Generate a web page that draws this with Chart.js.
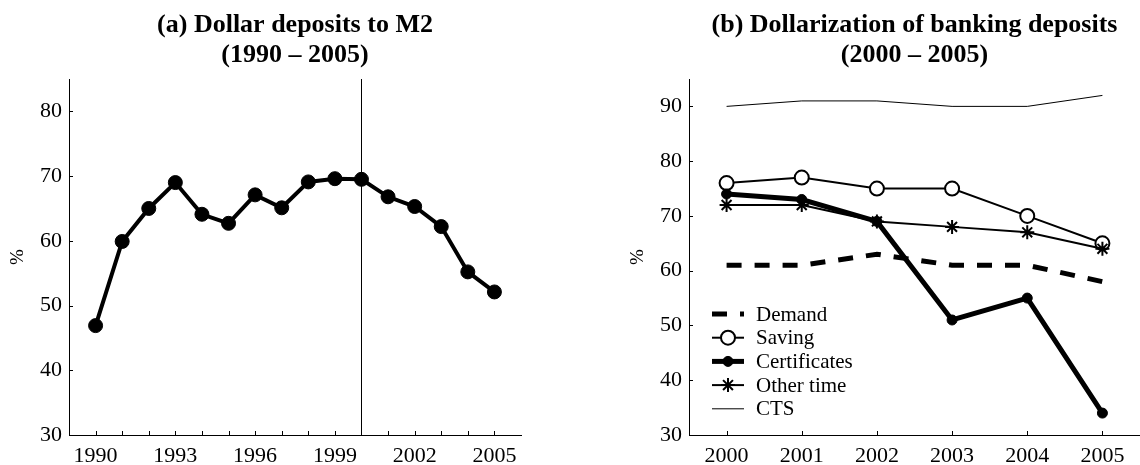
<!DOCTYPE html>
<html><head><meta charset="utf-8">
<script src="https://cdn.jsdelivr.net/npm/chart.js@4.4.1/dist/chart.umd.min.js"></script>
<style>
html,body{margin:0;padding:0;background:#fff;overflow:hidden;width:1140px;height:465px}
canvas{position:absolute;top:0}
#left{left:0}
#right{left:620px}
</style></head><body>
<canvas id="left" width="570" height="465"></canvas>
<canvas id="right" width="520" height="465"></canvas>
<script>
// ---------- data: panel (a) ----------
const leftYears = [1990,1991,1992,1993,1994,1995,1996,1997,1998,1999,2000,2001,2002,2003,2004,2005];
const dollarDepositsToM2 = [46.9,59.9,65.0,69.0,64.1,62.7,67.1,65.1,69.1,69.6,69.5,66.8,65.3,62.2,55.2,52.1];
const leftXTickLabels = [1990,1993,1996,1999,2002,2005];
const leftYTicks = [30,40,50,60,70,80];
const breakYear = 2000;
const leftTitle = ['(a) Dollar deposits to M2', '(1990 \u2013 2005)'];

// ---------- data: panel (b) ----------
const rightYears = [2000,2001,2002,2003,2004,2005];
const demand = [61,61,63,61,61,58];
const saving = [76,77,75,75,70,65];
const certificates = [74,73,69,51,55,34];
const otherTime = [72,72,69,68,67,64];
const cts = [90,91,91,90,90,92];
const rightYTicks = [30,40,50,60,70,80,90];
const rightTitle = ['(b) Dollarization of banking deposits', '(2000 \u2013 2005)'];
const seriesNames = ['Demand','Saving','Certificates','Other time','CTS'];
const yAxisTitle = '%';

const SERIF = '"Liberation Serif", "Times New Roman", Times, serif';
Chart.defaults.font.family = SERIF;
Chart.defaults.color = '#000';

const toPts = (xs, ys) => xs.map((x, i) => ({x: x, y: ys[i]}));

// ---------- plugins ----------
const panelTitle = {
  id: 'panelTitle',
  afterDraw(chart, args, o) {
    const {ctx, chartArea: a} = chart;
    ctx.save();
    ctx.fillStyle = '#000';
    ctx.font = 'bold ' + o.size + 'px ' + SERIF;
    ctx.textAlign = 'center';
    ctx.textBaseline = 'alphabetic';
    const cx = (a.left + a.right) / 2;
    o.lines.forEach((l, i) => ctx.fillText(l, cx, o.baseline + i * o.lineGap));
    ctx.restore();
  }
};

const innerTicks = {
  id: 'innerTicks',
  beforeDatasetsDraw(chart, args, o) {
    const {ctx, chartArea: a, scales: {x, y}} = chart;
    ctx.save();
    ctx.strokeStyle = '#000';
    ctx.lineWidth = 1;
    ctx.beginPath();
    x.ticks.forEach(t => {
      const px = Math.round(x.getPixelForValue(t.value)) + 0.5;
      ctx.moveTo(px, a.bottom); ctx.lineTo(px, a.bottom - o.length);
    });
    y.ticks.forEach(t => {
      const py = Math.round(y.getPixelForValue(t.value)) + 0.5;
      ctx.moveTo(a.left, py); ctx.lineTo(a.left + o.length, py);
    });
    ctx.stroke();
    ctx.restore();
  }
};

const breakLine = {
  id: 'breakLine',
  beforeDatasetsDraw(chart, args, o) {
    const {ctx, chartArea: a, scales: {x}} = chart;
    const px = Math.round(x.getPixelForValue(o.value)) + 0.5;
    ctx.save();
    ctx.strokeStyle = '#000';
    ctx.lineWidth = 1;
    ctx.beginPath();
    ctx.moveTo(px, a.top); ctx.lineTo(px, a.bottom);
    ctx.stroke();
    ctx.restore();
  }
};

function drawMarker(ctx, ds, x, y) {
  const r = ds.pointRadius || 0;
  if (!r) return;
  ctx.save();
  ctx.setLineDash([]);
  ctx.lineWidth = ds.pointBorderWidth || 1;
  ctx.strokeStyle = ds.pointBorderColor || '#000';
  ctx.fillStyle = ds.pointBackgroundColor || '#000';
  if (ds.pointStyle === 'star') {
    const d = r * Math.SQRT1_2;
    ctx.beginPath();
    ctx.moveTo(x - r, y); ctx.lineTo(x + r, y);
    ctx.moveTo(x, y - r); ctx.lineTo(x, y + r);
    ctx.moveTo(x - d, y - d); ctx.lineTo(x + d, y + d);
    ctx.moveTo(x - d, y + d); ctx.lineTo(x + d, y - d);
    ctx.stroke();
  } else {
    ctx.beginPath();
    ctx.arc(x, y, r, 0, Math.PI * 2);
    ctx.fill();
    ctx.stroke();
  }
  ctx.restore();
}

const insideLegend = {
  id: 'insideLegend',
  afterDraw(chart, args, o) {
    const {ctx, chartArea: a} = chart;
    ctx.save();
    ctx.font = o.size + 'px ' + SERIF;
    ctx.textBaseline = 'middle';
    ctx.textAlign = 'left';
    chart.data.datasets.forEach((ds, i) => {
      const y = a.bottom - o.firstRow + i * o.rowHeight;
      const x0 = a.left + o.left;
      ctx.save();
      ctx.strokeStyle = ds.borderColor;
      ctx.lineWidth = ds.borderWidth;
      ctx.setLineDash(ds.borderDash || []);
      ctx.beginPath();
      ctx.moveTo(x0, y); ctx.lineTo(x0 + o.sample, y);
      ctx.stroke();
      ctx.restore();
      drawMarker(ctx, ds, x0 + o.sample / 2, y);
      ctx.fillStyle = '#000';
      ctx.fillText(ds.label, x0 + o.sample + o.gap, y + 1);
    });
    ctx.restore();
  }
};

function xScale(min, max, years, labels) {
  return {
    type: 'linear', min: min, max: max,
    grid: {display: false, drawTicks: false},
    border: {display: true, color: '#000', width: 1},
    afterBuildTicks: s => { s.ticks = years.map(v => ({value: v})); },
    afterFit: s => { s.height = 30; s.paddingLeft = 0; s.paddingRight = 0; },
    ticks: {
      autoSkip: false, maxRotation: 0, minRotation: 0, padding: 8,
      color: '#000', font: {size: 22},
      callback: v => labels.includes(v) ? String(v) : ''
    }
  };
}
function yScale(min, max, ticks) {
  return {
    type: 'linear', min: min, max: max,
    grid: {display: false, drawTicks: false},
    border: {display: true, color: '#000', width: 1},
    afterBuildTicks: s => { s.ticks = ticks.map(v => ({value: v})); },
    afterFit: s => { s.width = 69; s.paddingTop = 0; s.paddingBottom = 0; },
    ticks: {padding: 7, color: '#000', font: {size: 22}},
    title: {display: true, text: yAxisTitle, color: '#000', font: {size: 19}, padding: {top: 7, bottom: 0}}
  };
}

// ---------- panel (a) ----------
new Chart(document.getElementById('left'), {
  type: 'line',
  data: {
    datasets: [{
      label: 'Dollar deposits to M2',
      data: toPts(leftYears, dollarDepositsToM2),
      borderColor: '#000', borderWidth: 4, tension: 0,
      pointRadius: 7, pointHoverRadius: 7,
      pointBackgroundColor: '#000', pointBorderColor: '#000', pointBorderWidth: 1,
      clip: false
    }]
  },
  options: {
    responsive: false, animation: false, devicePixelRatio: 1,
    layout: {autoPadding: false, padding: {top: 79, right: 49, bottom: 0, left: 0}},
    plugins: {
      legend: {display: false}, tooltip: {enabled: false},
      panelTitle: {lines: leftTitle, size: 26, baseline: 32, lineGap: 30},
      innerTicks: {length: 4},
      breakLine: {value: breakYear}
    },
    scales: {
      x: xScale(1989, 2006, leftYears, leftXTickLabels),
      y: yScale(30, 85, leftYTicks)
    }
  },
  plugins: [panelTitle, innerTicks, breakLine]
});

// ---------- panel (b) ----------
new Chart(document.getElementById('right'), {
  type: 'line',
  data: {
    datasets: [
      {label: seriesNames[0], data: toPts(rightYears, demand), order: 3,
       borderColor: '#000', borderWidth: 5, borderDash: [15, 13], pointRadius: 0, tension: 0, clip: false},
      {label: seriesNames[1], data: toPts(rightYears, saving), order: 2,
       borderColor: '#000', borderWidth: 2, pointStyle: 'circle', pointRadius: 7, pointHoverRadius: 7,
       pointBackgroundColor: '#fff', pointBorderColor: '#000', pointBorderWidth: 2, tension: 0, clip: false},
      {label: seriesNames[2], data: toPts(rightYears, certificates), order: 1,
       borderColor: '#000', borderWidth: 5, pointStyle: 'circle', pointRadius: 5, pointHoverRadius: 5,
       pointBackgroundColor: '#000', pointBorderColor: '#000', pointBorderWidth: 1, tension: 0, clip: false},
      {label: seriesNames[3], data: toPts(rightYears, otherTime), order: 0,
       borderColor: '#000', borderWidth: 2, pointStyle: 'star', pointRadius: 7, pointHoverRadius: 7,
       pointBackgroundColor: '#000', pointBorderColor: '#000', pointBorderWidth: 2, tension: 0, clip: false},
      {label: seriesNames[4], data: toPts(rightYears, cts), order: 4,
       borderColor: '#000', borderWidth: 1, pointRadius: 0, tension: 0, clip: false}
    ]
  },
  options: {
    responsive: false, animation: false, devicePixelRatio: 1,
    layout: {autoPadding: false, padding: {top: 79, right: 0, bottom: 0, left: 0}},
    plugins: {
      legend: {display: false}, tooltip: {enabled: false},
      panelTitle: {lines: rightTitle, size: 26, baseline: 32, lineGap: 30},
      innerTicks: {length: 4},
      insideLegend: {size: 21, left: 23, sample: 32, gap: 12, firstRow: 121, rowHeight: 23.7}
    },
    scales: {
      x: xScale(1999.5, 2005.5, rightYears, rightYears),
      y: yScale(30, 95, rightYTicks)
    }
  },
  plugins: [panelTitle, innerTicks, insideLegend]
});
</script>
</body></html>
